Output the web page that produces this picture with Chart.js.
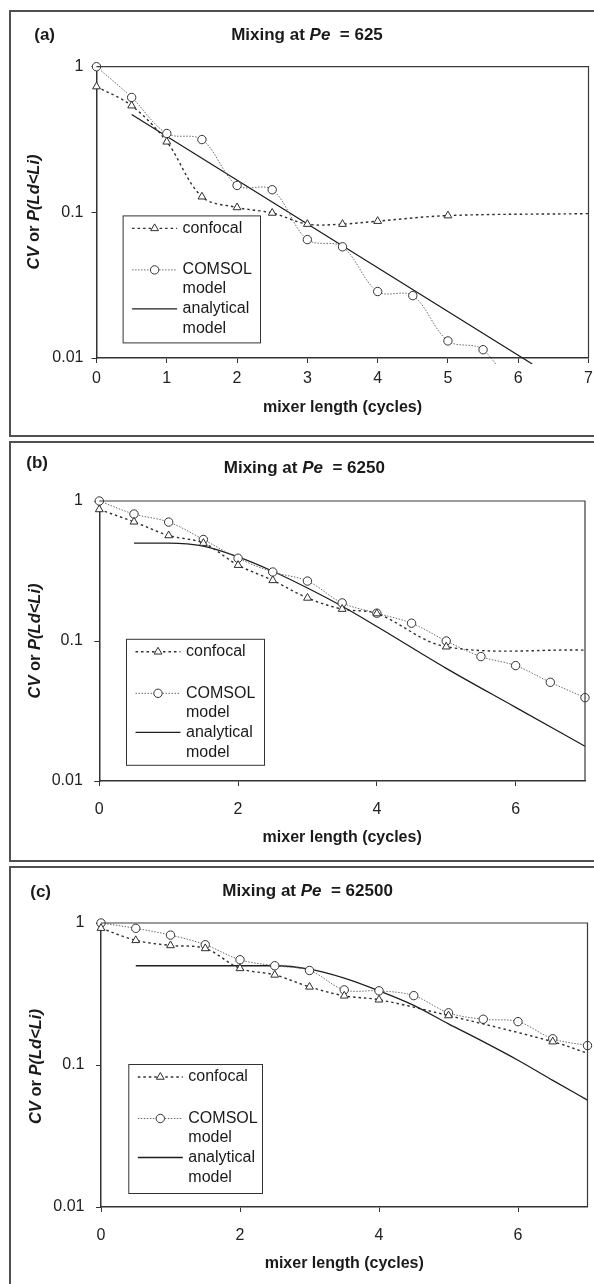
<!DOCTYPE html>
<html>
<head>
<meta charset="utf-8">
<title>Mixing at Pe</title>
<script src="https://cdn.jsdelivr.net/npm/chart.js@4.4.1/dist/chart.umd.min.js"></script>
<style>
  html, body { margin: 0; padding: 0; background: #fff; }
  body { position: relative; width: 594px; height: 1284px; overflow: hidden; }
  .frame { position: absolute; left: 9px; width: 640px; border: 2px solid #505050; box-sizing: border-box; }
  canvas { position: absolute; left: 11px; }
</style>
</head>
<body>
<div class="frame" style="top:10px;height:427px"></div>
<div class="frame" style="top:441px;height:421px"></div>
<div class="frame" style="top:866px;height:500px"></div>
<canvas id="chartA" width="583" height="423" style="top:12px"></canvas>
<canvas id="chartB" width="583" height="417" style="top:443px"></canvas>
<canvas id="chartC" width="583" height="416" style="top:868px"></canvas>
<script>
const FONT = '"Liberation Sans", Arial, Helvetica, sans-serif';
Chart.defaults.font.family = FONT;

// (a) Pe = 625
const confXA = [0, 0.5, 1, 1.5, 2, 2.5, 3, 3.5, 4, 5, 7];
const confYA = [0.73, 0.54, 0.305, 0.128, 0.108, 0.099, 0.083, 0.083, 0.087, 0.095, 0.098];
const comsolXA = [0, 0.5, 1, 1.5, 2, 2.5, 3, 3.5, 4, 4.5, 5, 5.5, 6];
const comsolYA = [1, 0.615, 0.348, 0.316, 0.153, 0.143, 0.065, 0.058, 0.0286, 0.0268, 0.0131, 0.0114, 0.005];
const analXA = [0.5, 6.2];
const analYA = [0.47, 0.0091];

// (b) Pe = 6250
const confXB = [0, 0.5, 1, 1.5, 2, 2.5, 3, 3.5, 4, 5, 7];
const confYB = [0.87, 0.71, 0.567, 0.5, 0.348, 0.271, 0.203, 0.169, 0.157, 0.091, 0.086];
const comsolXB = [0, 0.5, 1, 1.5, 2, 2.5, 3, 3.5, 4, 4.5, 5, 5.5, 6, 6.5, 7];
const comsolYB = [1, 0.807, 0.707, 0.531, 0.39, 0.311, 0.268, 0.187, 0.158, 0.134, 0.1, 0.0774, 0.0667, 0.0507, 0.0394];
const analXB = [0.5, 1, 1.5, 2, 2.5, 3, 3.5, 4, 5, 6, 7];
const analYB = [0.5, 0.5, 0.476, 0.399, 0.315, 0.239, 0.177, 0.127, 0.0638, 0.0336, 0.0177];

// (c) Pe = 62500
const confXC = [0, 0.5, 1, 1.5, 2, 2.5, 3, 3.5, 4, 5, 6.5, 7];
const confYC = [0.92, 0.755, 0.695, 0.662, 0.479, 0.431, 0.355, 0.307, 0.288, 0.223, 0.146, 0.121];
const comsolXC = [0, 0.5, 1, 1.5, 2, 2.5, 3, 3.5, 4, 4.5, 5, 5.5, 6, 6.5, 7];
const comsolYC = [1, 0.917, 0.822, 0.703, 0.551, 0.5, 0.463, 0.338, 0.333, 0.308, 0.233, 0.21, 0.202, 0.153, 0.137];
const analXC = [0.5, 1, 1.5, 2, 2.5, 3, 3.5, 4, 4.5, 5, 5.5, 6, 6.5, 7];
const analYC = [0.5, 0.5, 0.5, 0.5, 0.5, 0.473, 0.409, 0.333, 0.263, 0.195, 0.146, 0.108, 0.078, 0.0566];

const xTicksA = [0, 1, 2, 3, 4, 5, 6, 7];
const xTicksBC = [0, 2, 4, 6];
const yTicks = [0.01, 0.1, 1];
const legendLabels = [['confocal'], ['COMSOL', 'model'], ['analytical', 'model']];

const CLIP = { left: 10, top: 10, right: 10, bottom: 6 };

function pts(xs, ys) {
  return xs.map((x, i) => ({ x: x, y: ys[i] }));
}

// draw text made of several font runs, centred on cx
function drawRuns(ctx, runs, cx, cy, size) {
  let total = 0;
  const widths = runs.map(r => {
    ctx.font = r[1] + ' ' + size + 'px ' + FONT;
    const w = ctx.measureText(r[0]).width;
    total += w;
    return w;
  });
  let x = cx - total / 2;
  ctx.textAlign = 'left';
  runs.forEach((r, i) => {
    ctx.font = r[1] + ' ' + size + 'px ' + FONT;
    ctx.fillText(r[0], x, cy);
    x += widths[i];
  });
}

function drawSample(ctx, ds, x0, x1, y) {
  ctx.save();
  ctx.strokeStyle = ds.borderColor;
  ctx.lineWidth = ds.borderWidth;
  ctx.setLineDash(ds.borderDash || []);
  ctx.beginPath();
  ctx.moveTo(x0, y);
  ctx.lineTo(x1, y);
  ctx.stroke();
  if (ds.legendMarker) {
    ctx.setLineDash([]);
    ctx.strokeStyle = ds.pointBorderColor;
    ctx.fillStyle = ds.pointBackgroundColor;
    ctx.lineWidth = 1;
    Chart.helpers.drawPoint(ctx, { pointStyle: ds.pointStyle, radius: ds.legendMarker, borderWidth: 1, rotation: 0 }, (x0 + x1) / 2, y);
  }
  ctx.restore();
}

const decor = {
  id: 'decor',
  afterDraw(chart, args, o) {
    const ctx = chart.ctx;
    const a = chart.chartArea;
    ctx.save();
    // plot box: top and right sides
    ctx.strokeStyle = '#3a3a3a';
    ctx.lineWidth = 1.2;
    ctx.beginPath();
    ctx.moveTo(a.left, a.top);
    ctx.lineTo(a.right, a.top);
    ctx.lineTo(a.right, a.bottom);
    ctx.stroke();

    ctx.fillStyle = '#1a1a1a';
    ctx.textBaseline = 'middle';
    ctx.font = 'bold 17px ' + FONT;
    ctx.textAlign = 'right';
    ctx.fillText(o.tag, o.tagX, o.tagY);

    drawRuns(ctx, [['Mixing at ', 'bold'], ['Pe', 'italic bold'], ['  = ' + o.pe, 'bold']], o.titleX, o.titleY, 17);

    ctx.save();
    ctx.translate(o.yTitleX, o.yTitleY);
    ctx.rotate(-Math.PI / 2);
    drawRuns(ctx, [['CV', 'italic bold'], [' or ', 'bold'], ['P(Ld<Li)', 'italic bold']], 0, 0, 16.5);
    ctx.restore();

    ctx.font = 'bold 16px ' + FONT;
    ctx.textAlign = 'center';
    ctx.fillText('mixer length (cycles)', (a.left + a.right) / 2, a.bottom + o.xTitleOffset);

    // legend box
    const L = o.legend;
    ctx.fillStyle = '#fff';
    ctx.fillRect(L.x, L.y, L.w, L.h);
    ctx.strokeStyle = '#333';
    ctx.lineWidth = 1;
    ctx.strokeRect(L.x + 0.5, L.y + 0.5, L.w, L.h);
    const rows = [[13], [54.5, 73.5], [93.5, 113.5]];
    chart.data.datasets.forEach((ds, i) => {
      drawSample(ctx, ds, L.x + 9.5, L.x + 54.5, L.y + rows[i][0]);
      ctx.fillStyle = '#1a1a1a';
      ctx.font = '16px ' + FONT;
      ctx.textAlign = 'left';
      legendLabels[i].forEach((t, j) => ctx.fillText(t, L.x + 60, L.y + rows[i][j]));
    });
    ctx.restore();
  }
};

function buildChart(id, p) {
  return new Chart(document.getElementById(id), {
    type: 'line',
    data: {
      datasets: [
        {
          label: 'confocal', data: pts(p.confX, p.confY),
          borderColor: '#2e2e2e', borderWidth: 1.4, borderDash: [2.5, 3], tension: 0.35,
          pointStyle: 'triangle', pointRadius: c => (c.dataIndex < p.confMarked ? 4.5 : 0),
          pointBorderColor: '#2e2e2e', pointBackgroundColor: '#fff', pointBorderWidth: 1,
          legendMarker: 4.5, clip: CLIP
        },
        {
          label: 'COMSOL model', data: pts(p.comX, p.comY),
          borderColor: '#6a6a6a', borderWidth: 1, borderDash: [1.5, 1.5], tension: 0.35,
          pointStyle: 'circle', pointRadius: c => (c.dataIndex < p.comMarked ? 4.2 : 0),
          pointBorderColor: '#333', pointBackgroundColor: '#fff', pointBorderWidth: 1,
          legendMarker: 4.2, clip: CLIP
        },
        {
          label: 'analytical model', data: pts(p.anX, p.anY),
          borderColor: '#1e1e1e', borderWidth: 1.3, pointRadius: 0,
          cubicInterpolationMode: 'monotone', clip: CLIP
        }
      ]
    },
    options: {
      responsive: false,
      animation: false,
      devicePixelRatio: 1,
      layout: { padding: { left: 0, top: p.area.top, right: p.area.right, bottom: 0 } },
      plugins: {
        legend: { display: false },
        tooltip: { enabled: false },
        decor: p.decor
      },
      scales: {
        x: {
          type: 'linear', min: 0, max: 7,
          afterBuildTicks: s => { s.ticks = p.xTicks.map(v => ({ value: v })); },
          afterFit: s => { s.height = p.area.xh; s.paddingLeft = 0; s.paddingRight = 0; },
          ticks: { padding: p.area.xPad, color: '#222', font: { size: 16 }, maxRotation: 0, autoSkip: false },
          grid: { drawOnChartArea: false, tickLength: 5, color: '#333' },
          border: { color: '#333', width: 1.5 }
        },
        y: {
          type: 'logarithmic', min: 0.01, max: 1,
          afterBuildTicks: s => { s.ticks = yTicks.map(v => ({ value: v })); },
          afterFit: s => { s.width = p.area.yw; s.paddingTop = 0; s.paddingBottom = 0; },
          ticks: { padding: p.area.yPad, color: '#222', font: { size: 16 }, callback: v => String(v) },
          grid: { drawOnChartArea: false, tickLength: 5, color: '#333' },
          border: { color: '#333', width: 1.5 }
        }
      }
    },
    plugins: [decor]
  });
}

buildChart('chartA', {
  confX: confXA, confY: confYA, confMarked: 10,
  comX: comsolXA, comY: comsolYA, comMarked: 12,
  anX: analXA, anY: analYA, xTicks: xTicksA,
  area: { top: 54.7, right: 3.3, yw: 85.5, xh: 77, xPad: 5.5, yPad: 8 },
  decor: { tag: '(a)', tagX: 44, tagY: 23, pe: '625', titleX: 296, titleY: 23.5,
    yTitleX: 23, yTitleY: 200, xTitleOffset: 50,
    legend: { x: 111.6, y: 203.4, w: 137.4, h: 127 } }
});

buildChart('chartB', {
  confX: confXB, confY: confYB, confMarked: 10,
  comX: comsolXB, comY: comsolYB, comMarked: 15,
  anX: analXB, anY: analYB, xTicks: xTicksBC,
  area: { top: 58, right: 9, yw: 88.3, xh: 79, xPad: 14, yPad: 11.5 },
  decor: { tag: '(b)', tagX: 37, tagY: 20, pe: '6250', titleX: 293.3, titleY: 25.5,
    yTitleX: 24, yTitleY: 198, xTitleOffset: 57,
    legend: { x: 115, y: 195.8, w: 138, h: 126 } }
});

buildChart('chartC', {
  confX: confXC, confY: confYC, confMarked: 11,
  comX: comsolXC, comY: comsolYC, comMarked: 15,
  anX: analXC, anY: analYC, xTicks: xTicksBC,
  area: { top: 55, right: 6.5, yw: 90, xh: 77, xPad: 14, yPad: 11.5 },
  decor: { tag: '(c)', tagX: 40, tagY: 24, pe: '62500', titleX: 296.6, titleY: 23.7,
    yTitleX: 25.5, yTitleY: 198.6, xTitleOffset: 57,
    legend: { x: 117.3, y: 196, w: 133.7, h: 129 } }
});
</script>
</body>
</html>
